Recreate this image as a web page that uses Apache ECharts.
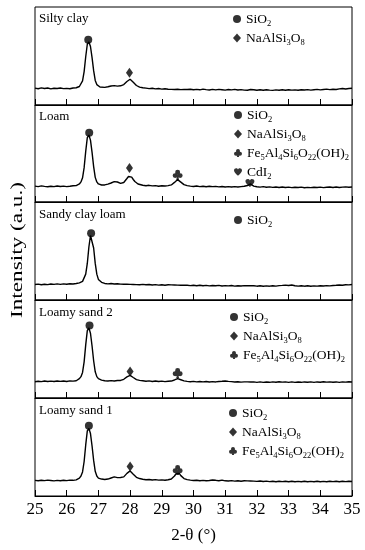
<!DOCTYPE html>
<html><head><meta charset="utf-8">
<script src="https://cdn.jsdelivr.net/npm/echarts@6/dist/echarts.min.js"></script>
<style>html,body{margin:0;padding:0;background:#fff;}#c{width:365px;height:550px;}</style>
</head><body><div id="c"></div>
<script>
// 2-theta grid (degrees)
const xs = [
25.0,25.1,25.2,25.3,25.4,25.5,25.6,25.7,25.8,25.9,26.0,26.1,26.2,26.3,
26.35,26.4,26.45,26.5,26.55,26.6,26.65,26.7,26.75,26.8,26.85,26.9,26.95,27.0,27.05,27.1,
27.2,27.3,27.4,27.5,27.6,27.7,
27.75,27.8,27.85,27.9,27.95,28.0,28.05,28.1,28.15,28.2,28.25,28.3,
28.4,28.5,28.6,28.7,28.8,28.9,29.0,29.1,29.2,
29.25,29.3,29.35,29.4,29.45,29.5,29.55,29.6,29.65,29.7,29.75,29.8,
29.9,30.0,30.1,30.2,30.3,30.4,30.5,30.6,30.7,30.8,30.9,31.0,31.1,31.2,31.3,31.4,31.5,31.6,
31.65,31.7,31.75,31.8,31.85,31.9,
32.0,32.1,32.2,32.3,32.4,32.5,32.6,32.7,32.8,32.9,33.0,33.1,33.2,33.3,33.4,33.5,33.6,33.7,33.8,33.9,34.0,34.1,34.2,34.3,34.4,34.5,34.6,34.7,34.8,34.9,35.0
];
const xTicks = [25,26,27,28,29,30,31,32,33,34,35];

const siltyClay = [
17.2,16.6,17.5,16.9,17.3,16.5,17.1,16.8,17.4,16.7,17.0,16.6,17.3,17.6,
18.0,18.9,20.8,24.6,34.1,49.2,62.0,64.4,59.7,48.3,35.0,25.1,20.8,18.9,18.4,17.9,
18.0,18.6,19.4,19.8,19.3,19.6,
20.0,20.8,22.0,24.0,26.0,26.3,25.2,23.2,21.3,19.9,18.9,18.2,
17.6,17.2,16.7,17.1,16.4,16.8,16.2,16.6,16.1,
16.5,15.9,16.3,15.8,16.4,16.0,16.5,15.7,16.2,15.9,16.4,15.8,
16.1,15.6,16.0,15.5,16.2,15.7,15.3,15.9,15.4,16.0,15.6,15.2,15.8,15.4,15.9,15.3,15.7,15.2,
15.6,15.1,15.5,15.8,15.2,15.6,
15.1,15.5,15.0,15.6,15.2,14.9,15.4,15.0,15.5,15.1,15.6,15.2,15.4,15.0,15.5,15.3,15.7,15.2,15.6,15.9,15.4,15.8,16.2,15.7,16.1,15.8,16.4,16.9,16.3,16.8,17.1
];
const loam = [
16.4,15.9,16.6,16.1,15.7,16.3,15.8,16.5,16.0,16.4,15.9,16.2,16.7,16.9,
17.5,18.6,20.7,24.9,35.4,52.2,66.4,69.0,63.8,51.2,36.5,25.4,20.7,18.6,18.1,17.5,
17.6,18.4,19.6,21.0,20.6,19.2,
19.0,20.1,21.8,24.2,26.3,27.0,25.6,23.2,21.1,19.6,18.6,17.9,
17.3,16.8,17.2,16.6,16.9,16.3,16.8,16.5,16.9,
17.1,17.6,18.6,20.2,22.1,23.1,22.5,20.5,18.9,17.9,17.3,16.9,
16.4,16.0,16.5,15.9,16.3,15.7,16.2,15.8,16.1,15.6,16.0,15.5,15.9,15.4,15.8,15.5,15.9,16.2,
16.6,17.0,18.2,18.6,17.3,16.4,
15.7,15.3,15.8,15.2,15.6,15.1,15.5,15.0,15.4,14.9,15.3,14.8,15.2,14.9,15.3,14.7,15.1,14.8,15.2,14.9,15.3,14.8,15.2,15.5,15.0,15.4,14.9,15.3,15.6,15.2,15.5
];
const sandyClayLoam = [
15.8,16.2,15.6,16.1,15.7,16.3,15.9,16.4,16.0,16.5,16.1,16.6,16.3,16.8,
17.0,17.5,18.0,19.0,21.0,26.4,37.3,54.1,65.8,64.0,53.1,37.3,26.4,21.0,19.0,18.0,
16.9,16.5,16.8,16.3,16.6,16.2,
16.5,16.1,16.4,16.0,16.3,15.9,16.2,15.8,16.1,15.7,16.0,15.6,
15.9,15.5,15.8,15.3,15.7,15.2,15.6,15.1,15.5,
15.0,15.4,14.9,15.3,14.8,15.2,14.7,15.1,14.8,15.2,14.6,15.0,
14.7,15.1,14.6,15.0,14.5,14.9,14.4,14.8,14.5,14.9,14.3,14.7,14.4,14.8,14.2,14.6,14.3,14.7,
14.2,14.6,14.1,14.5,14.2,14.6,
14.1,14.5,14.0,14.4,14.1,14.6,14.2,14.7,14.9,15.2,14.8,15.3,14.6,14.2,14.6,14.1,14.5,14.0,14.4,14.2,14.6,14.3,14.7,14.4,14.8,15.0,15.3,15.1,15.5,15.4,15.8
];
const loamySand2 = [
16.6,17.1,16.7,17.3,16.9,17.2,16.8,17.4,17.0,17.3,16.9,17.5,17.2,17.6,
18.6,19.7,21.8,26.1,36.9,54.2,68.8,71.5,66.1,53.1,38.0,26.7,21.8,19.7,19.1,18.3,
17.6,17.3,17.7,17.4,17.8,17.9,
18.4,19.1,20.1,21.5,22.7,23.1,22.3,20.9,19.7,18.8,18.3,18.0,
17.6,17.1,17.5,16.9,17.3,16.8,17.2,16.7,17.1,
17.1,17.3,17.7,18.4,19.3,19.7,19.4,18.6,17.9,17.5,17.2,17.0,
16.6,17.0,16.5,16.9,16.4,16.8,16.3,16.7,16.4,16.9,17.1,17.4,17.0,16.7,16.3,16.6,16.2,16.5,
16.1,16.5,16.0,16.4,16.1,16.5,
16.0,16.4,15.9,16.3,16.0,16.5,16.1,16.6,16.2,16.5,16.0,16.4,15.9,16.3,16.0,16.4,16.1,16.5,16.0,16.4,16.1,16.6,16.2,16.5,16.1,16.4,16.0,16.5,16.2,16.6,16.4
];
const loamySand1 = [
15.9,15.5,16.1,15.7,16.2,15.8,15.4,16.0,15.6,16.1,15.7,16.2,16.0,16.5,
17.3,18.3,20.4,24.6,35.2,52.1,66.4,69.0,63.7,51.0,36.3,25.2,20.4,18.3,17.8,17.3,
16.8,17.3,18.4,19.5,18.7,18.9,
18.5,19.5,21.0,23.1,25.0,25.6,24.4,22.3,20.5,19.1,18.3,17.8,
17.1,16.6,16.9,16.3,16.7,16.2,16.5,16.1,16.6,
16.9,17.4,18.6,20.4,22.7,23.8,23.1,20.8,18.9,17.8,17.1,16.7,
16.2,15.8,16.1,15.6,15.9,15.5,15.8,16.3,16.0,15.6,16.2,15.5,15.3,15.7,15.2,15.6,15.1,15.5,
15.0,15.4,14.9,15.3,14.8,15.2,
14.9,15.3,14.8,15.2,14.7,15.1,14.6,15.0,14.7,15.1,14.6,15.0,14.5,14.9,14.6,15.0,14.5,14.9,14.6,15.0,14.5,14.9,14.6,15.0,14.7,15.1,14.6,15.0,14.7,15.1,14.8
];

const panelNames = ['Silty clay','Loam','Sandy clay loam','Loamy sand 2','Loamy sand 1'];
const panelSeries = [siltyClay, loam, sandyClayLoam, loamySand2, loamySand1];

// peak markers [2-theta, intensity] per panel
const sio2Peaks = [[26.68,66.5],[26.71,71.5],[26.77,68],[26.72,74],[26.70,71.6]];
const albitePeaks = [[27.98,33],[27.98,35],null,[28.0,27],[28.0,30]];
const chloritePeaks = [null,[29.5,28],null,[29.5,25.5],[29.5,26.6]];
const cdi2Peaks = [null,[31.78,19.5],null,null,null];
const legendNames = [
  ['SiO2','NaAlSi3O8'],
  ['SiO2','NaAlSi3O8','Fe5Al4Si6O22(OH)2','CdI2'],
  ['SiO2'],
  ['SiO2','NaAlSi3O8','Fe5Al4Si6O22(OH)2'],
  ['SiO2','NaAlSi3O8','Fe5Al4Si6O22(OH)2']
];

const FONT = '"Liberation Serif","Times New Roman",serif';
const CLUB = 'path://M50,6 A22,22 0 1,1 49.9,6 Z M28,36 A22,22 0 1,1 27.9,36 Z M72,36 A22,22 0 1,1 71.9,36 Z M50,48 L63,96 L37,96 Z';
const HEART = 'path://M50 92 C20 66 4 47 4 29 C4 13 17 4 29 4 C39 4 46 10 50 19 C54 10 61 4 71 4 C83 4 96 13 96 29 C96 47 80 66 50 92 Z';
const symbolOf = {'SiO2':'circle','NaAlSi3O8':'diamond','Fe5Al4Si6O22(OH)2':CLUB,'CdI2':HEART};
const sizeOf = {'SiO2':8,'NaAlSi3O8':[7,10],'Fe5Al4Si6O22(OH)2':[10,10],'CdI2':[9,8]};
const richName = {
  'SiO2':'{n|SiO}{s|2}',
  'NaAlSi3O8':'{n|NaAlSi}{s|3}{n|O}{s|8}',
  'Fe5Al4Si6O22(OH)2':'{n|Fe}{s|5}{n|Al}{s|4}{n|Si}{s|6}{n|O}{s|22}{n|(OH)}{s|2}',
  'CdI2':'{n|CdI}{s|2}'
};

const tops = [7,105,202,300,398];
const heights = [98,97,98,98,98];
const titleTops = [12,110,208,306,404];
const legendLefts = [233,234,234,230,229];
const legendTops = [12,108,213,310,406];

const grid=[], xAxis=[], yAxis=[], series=[], title=[], legend=[];
for (let i=0;i<5;i++){
  const last = i===4;
  grid.push({left:35,right:13,top:tops[i],height:heights[i],show:true,borderColor:'#000',borderWidth:1,containLabel:false});
  xAxis.push({type:'value',gridIndex:i,min:25,max:35,interval:1,
    axisLine:{show:true,lineStyle:{color:'#000',width:1}},
    axisTick:{show:true,inside:true,length:6,lineStyle:{color:'#000',width:1}},
    axisLabel:{show:last,color:'#000',fontSize:17,fontFamily:FONT,margin:5,
      formatter:v=>xTicks.includes(v)?String(v):''},
    splitLine:{show:false},
    name:last?'2-θ (°)':'',nameLocation:'middle',nameGap:31,
    nameTextStyle:{color:'#000',fontSize:17,fontFamily:FONT}});
  yAxis.push({type:'value',gridIndex:i,min:0,max:100,show:false});
  series.push({type:'line',name:panelNames[i],xAxisIndex:i,yAxisIndex:i,
    data:xs.map((x,j)=>[x,panelSeries[i][j]]),symbol:'none',smooth:false,
    lineStyle:{color:'#000',width:1.4},silent:true,animation:false,z:2});
  const peaks = [['SiO2',sio2Peaks[i]],['NaAlSi3O8',albitePeaks[i]],['Fe5Al4Si6O22(OH)2',chloritePeaks[i]],['CdI2',cdi2Peaks[i]]];
  peaks.forEach(([nm,p])=>{
    if(!p) return;
    series.push({type:'scatter',name:nm,xAxisIndex:i,yAxisIndex:i,data:[p],
      symbol:symbolOf[nm],symbolSize:sizeOf[nm],itemStyle:{color:'#000'},silent:true,animation:false,z:5});
  });
  title.push({text:panelNames[i],left:39,top:titleTops[i],padding:0,
    textStyle:{color:'#000',fontSize:13,fontWeight:'normal',fontFamily:FONT}});
  legend.push({orient:'vertical',left:legendLefts[i],top:legendTops[i],padding:0,itemGap:3,
    itemWidth:8,itemHeight:9,selectedMode:false,
    data:legendNames[i].map(n=>({name:n,icon:symbolOf[n]})),
    itemStyle:{color:'#000'},
    formatter:n=>richName[n],
    textStyle:{color:'#000',fontFamily:FONT,
      rich:{n:{fontSize:13.5,lineHeight:18,fontFamily:FONT,color:'#000'},
            s:{fontSize:8.5,lineHeight:18,verticalAlign:'bottom',fontFamily:FONT,color:'#000'}}}});
}

const chart = echarts.init(document.getElementById('c'),null,{renderer:'canvas'});
chart.setOption({
  animation:false,backgroundColor:'#fff',
  grid,xAxis,yAxis,series,title,legend,
  graphic:[{type:'text',x:18,y:250,rotation:Math.PI/2,scaleX:1.45,
    style:{text:'Intensity (a.u.)',fill:'#000',fontSize:16,fontFamily:FONT,textAlign:'center',textVerticalAlign:'middle'}}]
});
</script></body></html>
